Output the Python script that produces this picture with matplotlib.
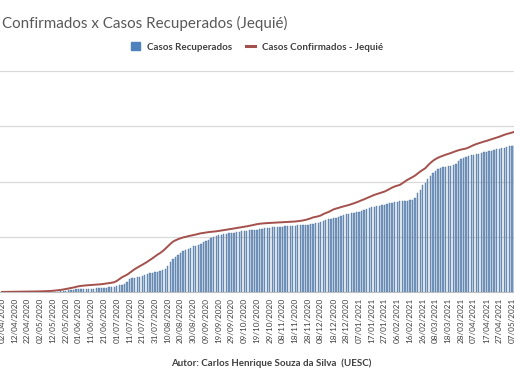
import numpy as np
import pandas as pd
import matplotlib
matplotlib.use("Agg")
import matplotlib.pyplot as plt
from matplotlib.patches import Patch
from matplotlib.lines import Line2D

# ---- data (every 2 days starting 02/04/2020) ----
start_date = "2020-04-02"
step_days = 2
confirmados = [
    3, 4, 5, 6, 7, 8, 9, 10, 11, 12, 14, 15, 17, 19, 21, 23, 26, 29, 33, 37,
    45, 54, 64, 75, 90, 108, 125, 142, 162, 185, 208, 222, 232, 240, 248, 254, 261, 267, 274, 282,
    295, 309, 322, 336, 355, 400, 465, 530, 578, 625, 690, 760, 825, 880, 935, 985, 1040, 1095, 1160, 1220,
    1290, 1355, 1410, 1480, 1560, 1650, 1740, 1820, 1870, 1910, 1945, 1975, 1995, 2020, 2040, 2060, 2080, 2105, 2125, 2140,
    2155, 2168, 2180, 2188, 2196, 2210, 2225, 2240, 2255, 2272, 2285, 2300, 2315, 2330, 2345, 2360, 2378, 2395, 2415, 2435,
    2455, 2470, 2480, 2488, 2495, 2500, 2505, 2510, 2515, 2520, 2525, 2530, 2535, 2540, 2545, 2552, 2562, 2575, 2590, 2610,
    2635, 2665, 2700, 2720, 2740, 2770, 2820, 2860, 2895, 2940, 2990, 3020, 3045, 3075, 3100, 3125, 3150, 3180, 3210, 3245,
    3280, 3320, 3355, 3395, 3435, 3475, 3515, 3545, 3575, 3605, 3635, 3680, 3730, 3780, 3820, 3850, 3875, 3935, 4000, 4060,
    4110, 4160, 4215, 4290, 4360, 4420, 4480, 4580, 4670, 4750, 4810, 4860, 4900, 4935, 4970, 5000, 5030, 5065, 5100, 5130,
    5155, 5175, 5195, 5230, 5275, 5320, 5355, 5385, 5415, 5445, 5470, 5500, 5530, 5560, 5590, 5620, 5655, 5690, 5720, 5745,
    5770, 5800,
]
recuperados = [
    0, 0, 0, 0, 0, 0, 0, 0, 0, 0, 0, 0, 0, 0, 0, 0, 0, 0, 0, 0,
    5, 10, 15, 25, 35, 45, 60, 75, 85, 95, 100, 105, 108, 112, 116, 120, 124, 128, 132, 136,
    145, 155, 165, 180, 195, 215, 245, 270, 290, 380, 470, 490, 510, 530, 545, 580, 610, 650, 680, 700,
    720, 740, 760, 800, 850, 950, 1080, 1180, 1250, 1330, 1400, 1470, 1530, 1570, 1610, 1650, 1680, 1710, 1750, 1800,
    1840, 1900, 1960, 2000, 2030, 2055, 2075, 2090, 2105, 2120, 2135, 2150, 2165, 2180, 2192, 2205, 2218, 2230, 2240, 2250,
    2260, 2272, 2285, 2300, 2315, 2328, 2340, 2348, 2355, 2362, 2370, 2376, 2382, 2390, 2396, 2402, 2410, 2418, 2425, 2435,
    2442, 2450, 2460, 2480, 2510, 2545, 2580, 2605, 2625, 2645, 2665, 2685, 2720, 2760, 2790, 2810, 2830, 2850, 2870, 2890,
    2910, 2940, 2970, 3000, 3030, 3060, 3080, 3100, 3120, 3140, 3155, 3180, 3210, 3235, 3255, 3275, 3290, 3300, 3305, 3310,
    3315, 3340, 3400, 3580, 3700, 3860, 3960, 4100, 4190, 4290, 4380, 4460, 4490, 4510, 4530, 4550, 4570, 4600, 4640, 4760,
    4830, 4860, 4890, 4920, 4945, 4965, 4985, 5005, 5030, 5050, 5075, 5095, 5115, 5140, 5165, 5185, 5205, 5225, 5250, 5270,
    5295, 5320,
]
tick_labels = list(pd.date_range(start_date, periods=41, freq="10D").strftime("%d/%m/%Y"))
tick_days = [10 * i for i in range(len(tick_labels))]

title = "Confirmados x Casos Recuperados (Jequié)"
autor = "Autor: Carlos Henrique Souza da Silva  (UESC)"

# ---- figure ----
plt.rcParams["font.family"] = ["Lato", "DejaVu Sans"]
fig = plt.figure(figsize=(5.14, 3.86), dpi=100)
W, H = 514, 386
ax = fig.add_axes([0, (H - 292) / H, 1, (292 - 71) / H])

days = np.arange(len(confirmados)) * step_days
ax.bar(days, recuperados, width=1.0, color="#7898c0", edgecolor="#4d74a0",
       linewidth=0.3, zorder=2)
ax.plot(days, confirmados, color="#a4504c", lw=1.4, zorder=3)

ax.set_xlim(-1.6, 401.6)
ax.set_ylim(0, 8000)
ax.set_yticks([0, 2000, 4000, 6000, 8000])
ax.yaxis.grid(True, color="#d9d9d9", lw=0.9, zorder=0)
ax.set_yticklabels([])
ax.tick_params(axis="y", length=0)
ax.set_xticks(tick_days)
ax.set_xticklabels(tick_labels, rotation=90, fontsize=5.9, color="#404040")
ax.tick_params(axis="x", length=0, pad=4)
for s in ["top", "left", "right"]:
    ax.spines[s].set_visible(False)
ax.spines["bottom"].set_color("#bfbfbf")
ax.set_facecolor("none")

fig.text(2 / W, 1 - 23 / H, title, fontsize=10.9, color="#595959",
         ha="left", va="center")

handles = [Patch(facecolor="#4f81bd", edgecolor="#4f81bd", label="Casos Recuperados"),
           Line2D([0], [0], color="#a4504c", lw=2.2, label="Casos Confirmados - Jequié")]
leg = fig.legend(handles=handles, loc="center", bbox_to_anchor=(257 / W, 1 - 47 / H),
                 ncol=2, frameon=False, prop={"size": 7, "weight": "bold"},
                 handlelength=0.9, handleheight=0.9, columnspacing=1.5, handletextpad=0.7)
for t in leg.get_texts():
    t.set_color("#404040")

fig.text(271 / W, 1 - 363 / H, autor, fontsize=7, weight="bold", color="#404040",
         ha="center", va="center")

fig.savefig("out.png", dpi=100)
